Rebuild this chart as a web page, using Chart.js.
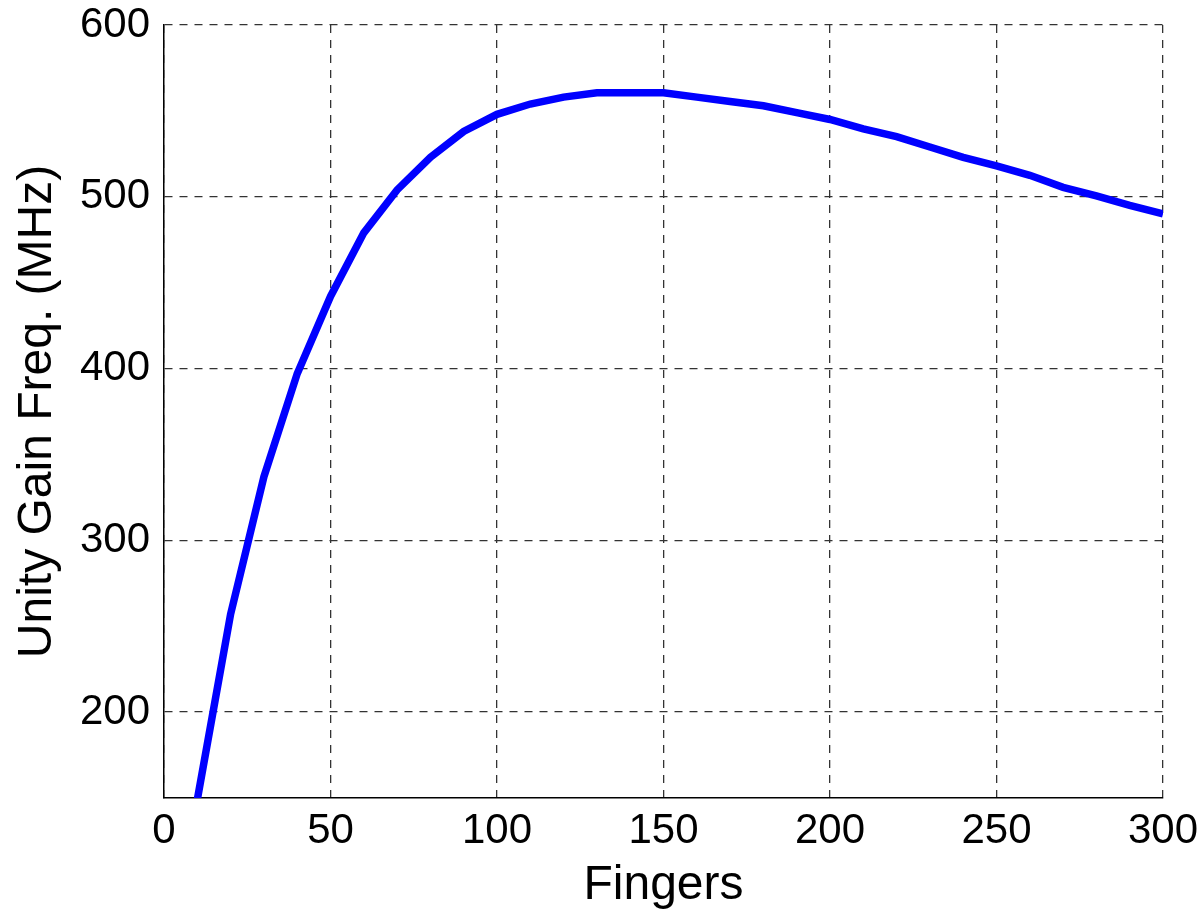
<!DOCTYPE html>
<html>
<head>
<meta charset="utf-8">
<title>Unity Gain Freq. vs Fingers</title>
<script src="https://cdn.jsdelivr.net/npm/chart.js@4"></script>
<style>
    body { margin: 0; background: #fff; }
    canvas { display: block; }
</style>
</head>
<body>
<canvas id="ugfChart" width="1203" height="910"></canvas>
<script>
// values
const fingers = [10, 20, 30, 40, 50, 60, 70, 80, 90, 100,
                 110, 120, 130, 140, 150, 160, 170, 180, 190, 200,
                 210, 220, 230, 240, 250, 260, 270, 280, 290, 300];
const ugf = [149, 257, 337, 397, 442, 479, 504, 523, 538, 548,
             554, 558, 560.5, 560.5, 560.5, 558, 555.5, 553, 549, 545,
             539.5, 535, 529, 523, 518, 512.5, 505.5, 500.5, 495, 490];
const yTickValues = [200, 300, 400, 500, 600];
const xTickStep = 50;

const fontFamily = '"Liberation Sans", Arial, sans-serif';

var ctx = document.getElementById("ugfChart").getContext("2d");

new Chart(ctx, {
    type: 'line',
    data: {
        datasets: [{
            label: 'Unity Gain Freq.',
            data: fingers.map((f, i) => ({ x: f, y: ugf[i] })),
            borderColor: '#0000ff',
            borderWidth: 7.5,
            pointRadius: 0,
            tension: 0,
            fill: false
        }]
    },
    options: {
        responsive: false,
        animation: false,
        layout: {
            padding: { top: 25, right: 40, left: 0, bottom: 0 }
        },
        scales: {
            x: {
                type: 'linear',
                min: 0,
                max: 300,
                ticks: {
                    stepSize: xTickStep,
                    color: '#000',
                    padding: 8,
                    maxRotation: 0,
                    font: { family: fontFamily, size: 42 }
                },
                grid: {
                    color: '#333',
                    lineWidth: 1.3,
                    drawTicks: false
                },
                border: {
                    display: true,
                    color: '#000',
                    width: 1.5,
                    dash: [8, 7]
                },
                title: {
                    display: true,
                    text: 'Fingers',
                    color: '#000',
                    padding: { top: 0, bottom: 0 },
                    font: { family: fontFamily, size: 48, lineHeight: 1 }
                },
                afterFit: function (scale) {
                    scale.height = 112;
                    scale.paddingLeft = 0;
                    scale.paddingRight = 0;
                }
            },
            y: {
                type: 'linear',
                min: 150,
                max: 600,
                afterBuildTicks: function (scale) {
                    scale.ticks = yTickValues.map(v => ({ value: v }));
                },
                ticks: {
                    color: '#000',
                    padding: 14,
                    font: { family: fontFamily, size: 42 }
                },
                grid: {
                    color: '#333',
                    lineWidth: 1.3,
                    drawTicks: false
                },
                border: {
                    display: true,
                    color: '#000',
                    width: 1.5,
                    dash: [8, 7]
                },
                title: {
                    display: true,
                    text: 'Unity Gain Freq. (MHz)',
                    color: '#000',
                    padding: { top: 9, bottom: 0 },
                    font: { family: fontFamily, size: 48, lineHeight: 1.2 }
                },
                afterFit: function (scale) {
                    scale.width = 164;
                    scale.paddingTop = 0;
                    scale.paddingBottom = 0;
                }
            }
        },
        plugins: {
            legend: { display: false },
            tooltip: { enabled: false }
        }
    }
});
</script>
</body>
</html>
